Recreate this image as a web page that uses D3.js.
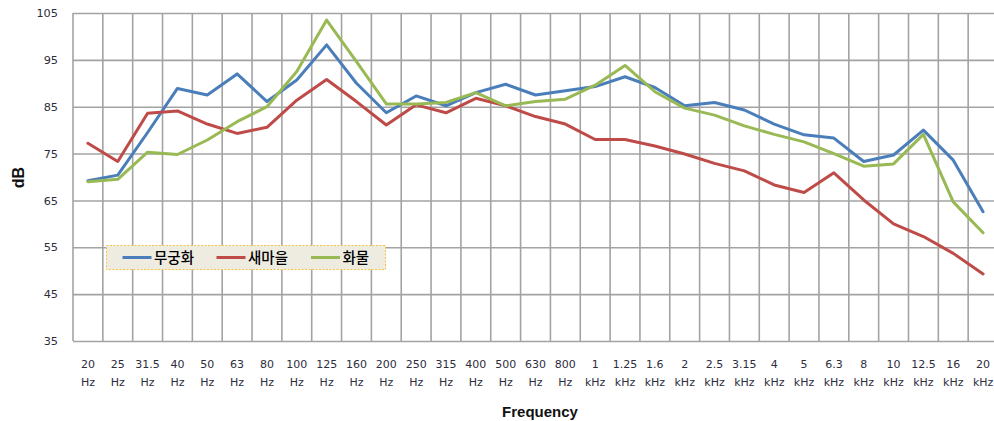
<!DOCTYPE html>
<html>
<head>
<meta charset="utf-8">
<script src="https://cdn.jsdelivr.net/npm/d3@7/dist/d3.min.js"></script>
<style>
  html, body { margin: 0; padding: 0; background: #fff; }
  svg { display: block; }
</style>
</head>
<body>
<svg id="chart" width="994" height="421"></svg>
<script>
// Frequency bands (1/3 octave) with their units
const bandValues = ["20","25","31.5","40","50","63","80","100","125","160","200","250","315","400","500","630","800",
                    "1","1.25","1.6","2","2.5","3.15","4","5","6.3","8","10","12.5","16","20"];
const bandUnits = ["Hz","Hz","Hz","Hz","Hz","Hz","Hz","Hz","Hz","Hz","Hz","Hz","Hz","Hz","Hz","Hz","Hz",
                   "kHz","kHz","kHz","kHz","kHz","kHz","kHz","kHz","kHz","kHz","kHz","kHz","kHz","kHz"];

// Sound pressure level (dB) per band for each train
const mugunghwa = [69.2, 70.4, 79.5, 88.9, 87.5, 92.0, 86.1, 90.7, 98.2, 90.0, 83.7, 87.3, 85.2, 88.0, 89.8, 87.5,
                   88.4, 89.3, 91.4, 89.1, 85.2, 85.9, 84.3, 81.3, 79.0, 78.3, 73.3, 74.7, 80.0, 73.6, 62.6];
const saemaeul = [77.2, 73.3, 83.6, 84.1, 81.3, 79.3, 80.6, 86.4, 90.8, 86.1, 81.1, 85.4, 83.7, 86.8, 85.2, 82.9,
                  81.3, 78.0, 78.0, 76.6, 74.9, 72.9, 71.3, 68.3, 66.7, 70.9, 65.1, 60.0, 57.3, 53.7, 49.3];
const hwamul = [69.0, 69.5, 75.3, 74.8, 77.9, 81.8, 85.0, 92.5, 103.5, 94.6, 85.6, 85.6, 85.9, 88.0, 85.2, 86.1,
                86.6, 89.6, 93.8, 88.2, 84.7, 83.2, 80.9, 79.1, 77.5, 75.0, 72.3, 72.8, 79.1, 64.7, 58.1];

const seriesNames = ["무궁화", "새마을", "화물"];
const seriesColors = ["#4a7ebb", "#be4b48", "#98b954"];
const yTicks = [35, 45, 55, 65, 75, 85, 95, 105];

const series = [mugunghwa, saemaeul, hwamul].map((vals, i) => ({
  name: seriesNames[i], color: seriesColors[i], values: vals
}));

const svg = d3.select("#chart");
const plot = { left: 73, top: 13, right: 998, bottom: 341 };

const x = d3.scaleBand()
  .domain(d3.range(bandValues.length))
  .range([plot.left, plot.right])
  .paddingInner(0).paddingOuter(0);

const y = d3.scaleLinear().domain([35, 105]).range([plot.bottom, plot.top]);

const gridColor = "#a3a3a3";

// horizontal gridlines + y labels
const yAxis = svg.append("g")
  .attr("transform", `translate(${plot.left},0)`)
  .call(d3.axisLeft(y).tickValues(yTicks).tickSize(-(plot.right - plot.left)).tickPadding(15).tickFormat(d3.format("d")));
yAxis.select(".domain").remove();
yAxis.selectAll(".tick line").attr("stroke", gridColor).attr("stroke-width", 1.6);
yAxis.selectAll(".tick text")
  .attr("font-family", "'DejaVu Sans', Verdana, sans-serif")
  .attr("font-size", 11.3).attr("fill", "#2d2d3d");

// vertical gridlines at band boundaries
const boundaries = bandValues.map((d, i) => x(i)).concat([x(bandValues.length - 1) + x.bandwidth()]);
svg.append("g").selectAll("line").data(boundaries).join("line")
  .attr("x1", d => d).attr("x2", d => d)
  .attr("y1", plot.top).attr("y2", plot.bottom)
  .attr("stroke", gridColor).attr("stroke-width", 1.6);

// x labels (two lines: value, unit)
const xLabels = svg.append("g")
  .attr("font-family", "'DejaVu Sans', Verdana, sans-serif")
  .attr("font-size", 11).attr("fill", "#2d2d3d").attr("text-anchor", "middle");
const xl = xLabels.selectAll("g").data(bandValues).join("g")
  .attr("transform", (d, i) => `translate(${x(i) + x.bandwidth() / 2},0)`);
xl.append("text").attr("y", 368).text(d => d);
xl.append("text").attr("y", 386).text((d, i) => bandUnits[i]);

// lines
const line = d3.line()
  .x((d, i) => x(i) + x.bandwidth() / 2)
  .y(d => y(d));

svg.append("g").selectAll("path").data(series).join("path")
  .attr("d", d => line(d.values))
  .attr("fill", "none")
  .attr("stroke", d => d.color)
  .attr("stroke-width", 3)
  .attr("stroke-linejoin", "round")
  .attr("stroke-linecap", "round");

// legend
const legend = svg.append("g");
legend.append("rect")
  .attr("x", 106.5).attr("y", 245.5).attr("width", 279).attr("height", 24)
  .attr("fill", "#eeece1").attr("stroke", "#f6c343").attr("stroke-width", 1)
  .attr("stroke-dasharray", "2,1.5");
const legendX = [122.5, 216.5, 311];
const items = legend.selectAll("g.item").data(series).join("g").attr("class", "item")
  .attr("transform", (d, i) => `translate(${legendX[i]},257.5)`);
items.append("line").attr("x1", 0).attr("x2", 29).attr("y1", 0).attr("y2", 0)
  .attr("stroke", d => d.color).attr("stroke-width", 3);
items.append("text").attr("x", 31.5).attr("y", 0).attr("dy", "0.36em")
  .attr("font-family", "'Noto Sans CJK KR', sans-serif").attr("font-size", 14.5)
  .attr("font-weight", 500).attr("fill", "#000").text(d => d.name);

// axis titles
svg.append("text")
  .attr("x", 540).attr("y", 416.5).attr("text-anchor", "middle")
  .attr("font-family", "'Liberation Sans', Arial, sans-serif")
  .attr("font-weight", "bold").attr("font-size", 15).attr("fill", "#111")
  .text("Frequency");
svg.append("text")
  .attr("transform", "translate(24,177.5) rotate(-90)").attr("text-anchor", "middle")
  .attr("font-family", "'Liberation Sans', Arial, sans-serif")
  .attr("font-weight", "bold").attr("font-size", 16).attr("fill", "#111")
  .text("dB");
</script>
</body>
</html>
